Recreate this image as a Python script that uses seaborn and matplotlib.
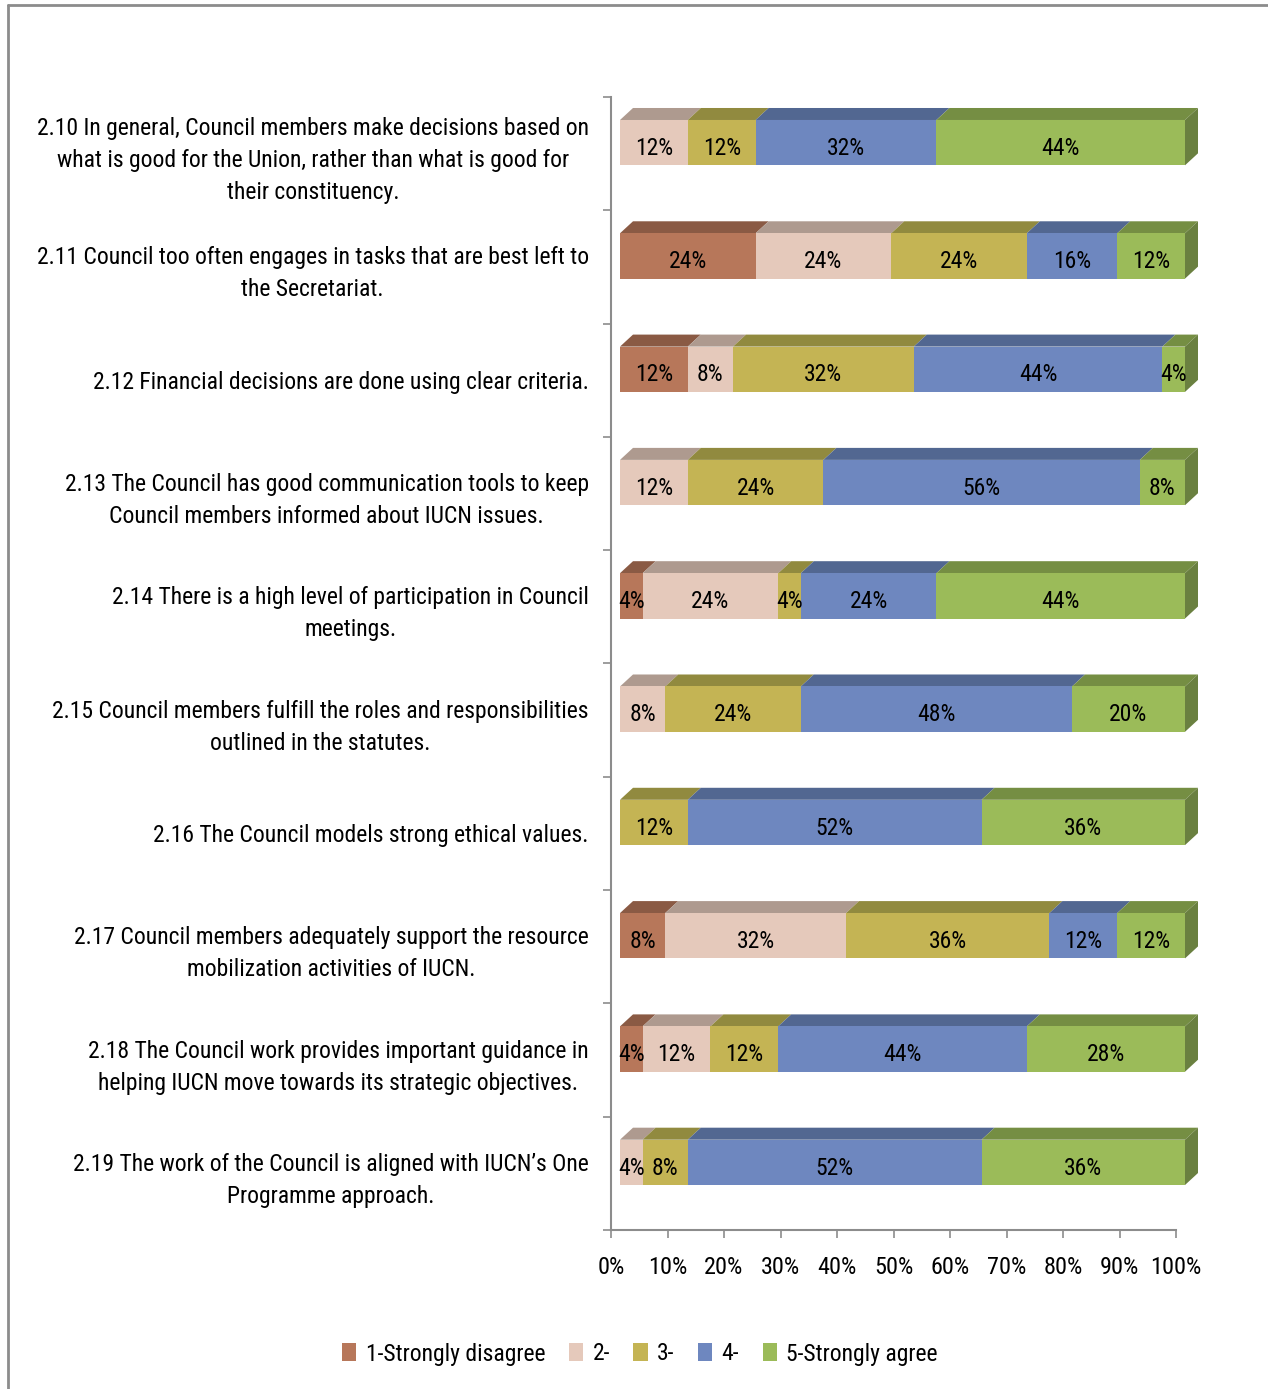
import numpy as np
import pandas as pd
import seaborn as sns
import matplotlib
matplotlib.use("Agg")
import matplotlib.pyplot as plt
import matplotlib.transforms as mtransforms
from matplotlib.patches import Polygon, Patch
from matplotlib.lines import Line2D

# Survey statements (line breaks as they appear on the axis)
statements = [
    "2.10 In general, Council members make decisions based on\nwhat is good for the Union, rather than what is good for\ntheir constituency.",
    "2.11 Council too often engages in tasks that are best left to\nthe Secretariat.",
    "2.12 Financial decisions are done using clear criteria.",
    "2.13 The Council has good communication tools to keep\nCouncil members informed about IUCN issues.",
    "2.14 There is a high level of participation in Council\nmeetings.",
    "2.15 Council members fulfill the roles and responsibilities\noutlined in the statutes.",
    "2.16 The Council models strong ethical values.",
    "2.17 Council members adequately support the resource\nmobilization activities of IUCN.",
    "2.18 The Council work provides important guidance in\nhelping IUCN move towards its strategic objectives.",
    "2.19 The work of the Council is aligned with IUCN\u2019s One\nProgramme approach.",
]

levels = ["1-Strongly disagree", "2-", "3-", "4-", "5-Strongly agree"]

# Share of responses (%) per answer level
strongly_disagree = [0, 24, 12, 0, 4, 0, 0, 8, 4, 0]
level_2 = [12, 24, 8, 12, 24, 8, 0, 32, 12, 4]
level_3 = [12, 24, 32, 24, 4, 24, 12, 36, 12, 8]
level_4 = [32, 16, 44, 56, 24, 48, 52, 12, 44, 52]
strongly_agree = [44, 12, 4, 8, 44, 20, 36, 12, 28, 36]

front_colors = ["#B7775A", "#E5C9BB", "#C4B454", "#6E87BF", "#9BBB59"]
top_colors = ["#8A5A44", "#AE9A8F", "#918A3F", "#526791", "#758E43"]
side_color = "#6A8040"
axis_gray = "#8C8C8C"

sns.set_theme(style="white")
plt.rcParams["font.family"] = ["Roboto Condensed", "Lato", "DejaVu Sans"]
plt.rcParams["text.color"] = "black"
FS = 17

W, H = 1268, 1389
fig = plt.figure(figsize=(W / 100, H / 100), dpi=100)
fig.patch.set_facecolor("white")
ax = fig.add_axes([611 / W, 1 - 1230 / H, 565 / W, 1133 / H])

df = pd.DataFrame({"statement": statements})
for name, vals in zip(levels, [strongly_disagree, level_2, level_3, level_4, strongly_agree]):
    df[name] = vals
cum = df[levels].cumsum(axis=1)
cum["statement"] = df["statement"]

BAR_W = 0.4
# stacked bars: draw cumulative totals from the outermost level inwards
for k in range(len(levels) - 1, -1, -1):
    sns.barplot(data=cum, x=levels[k], y="statement", orient="h",
                color=front_colors[k], saturation=1, width=BAR_W,
                linewidth=0, ax=ax)

ax.set_xlim(0, 100)
ax.set_ylim(len(statements) - 0.5, -0.5)

# front faces sit slightly forward of the axis plane
shift = mtransforms.ScaledTranslation(9 / 100, 11 / 100, fig.dpi_scale_trans)
face_tr = ax.transData + shift
for p in ax.patches:
    p.set_transform(face_tr)
    p.set_clip_on(False)
    p.set_zorder(3)

# depth of the 3D boxes, converted from pixels to data units
x_px = ax.transData.transform((1, 0))[0] - ax.transData.transform((0, 0))[0]
y_px = abs(ax.transData.transform((0, 1))[1] - ax.transData.transform((0, 0))[1])
ddx = 13 / x_px
ddy = 12 / y_px

for i in range(len(statements)):
    top = i - BAR_W / 2
    bottom = i + BAR_W / 2
    left = 0
    for k, name in enumerate(levels):
        v = df.loc[i, name]
        if v == 0:
            continue
        right = left + v
        ax.add_patch(Polygon([(left, top), (right, top), (right + ddx, top - ddy),
                              (left + ddx, top - ddy)], closed=True,
                             facecolor=top_colors[k], edgecolor="none",
                             transform=face_tr, clip_on=False, zorder=2))
        ax.text((left + right) / 2, i + 0.05, f"{v}%", transform=face_tr,
                ha="center", va="center", fontsize=FS, color="black", zorder=5)
        left = right
    ax.add_patch(Polygon([(left, top), (left + ddx, top - ddy),
                          (left + ddx, bottom - ddy), (left, bottom)], closed=True,
                         facecolor=side_color, edgecolor="none",
                         transform=face_tr, clip_on=False, zorder=2))

# axes styling
for s in ["top", "right"]:
    ax.spines[s].set_visible(False)
for s in ["left", "bottom"]:
    ax.spines[s].set_color(axis_gray)
    ax.spines[s].set_linewidth(1.5)

ax.set_xlabel("")
ax.set_ylabel("")
ticks = list(range(0, 101, 10))
ax.set_xticks(ticks)
ax.set_xticklabels([f"{t}%" for t in ticks])
ax.tick_params(axis="x", bottom=True, length=6, width=1.2, color=axis_gray,
               direction="out", pad=13, labelsize=FS + 0.5, labelcolor="black")

ax.set_yticks(range(len(statements)))
ax.set_yticklabels(statements, ha="right", multialignment="center",
                   linespacing=1.5, fontsize=FS)
ax.set_yticks(np.arange(-0.5, len(statements), 1), minor=True)
ax.tick_params(axis="y", which="major", left=True, length=0, pad=16,
               labelcolor="black")
ax.tick_params(axis="y", which="minor", left=True, length=6, width=1.2,
               color=axis_gray, direction="out")

handles = [Patch(facecolor=c, edgecolor="none", label=l)
           for c, l in zip(front_colors, levels)]
fig.legend(handles=handles, loc="center", bbox_to_anchor=(640 / W, 1 - 1354 / H),
           ncol=5, frameon=False, fontsize=FS, handlelength=0.6,
           handleheight=0.8, handletextpad=0.4, columnspacing=1.0)

# frame lines along the top and left edges
fig.add_artist(Line2D([8 / W, 1], [1 - 5 / H, 1 - 5 / H], color=axis_gray, lw=2,
                      transform=fig.transFigure))
fig.add_artist(Line2D([8 / W, 8 / W], [0, 1 - 5 / H], color=axis_gray, lw=2,
                      transform=fig.transFigure))

fig.savefig("out.png", dpi=100)
